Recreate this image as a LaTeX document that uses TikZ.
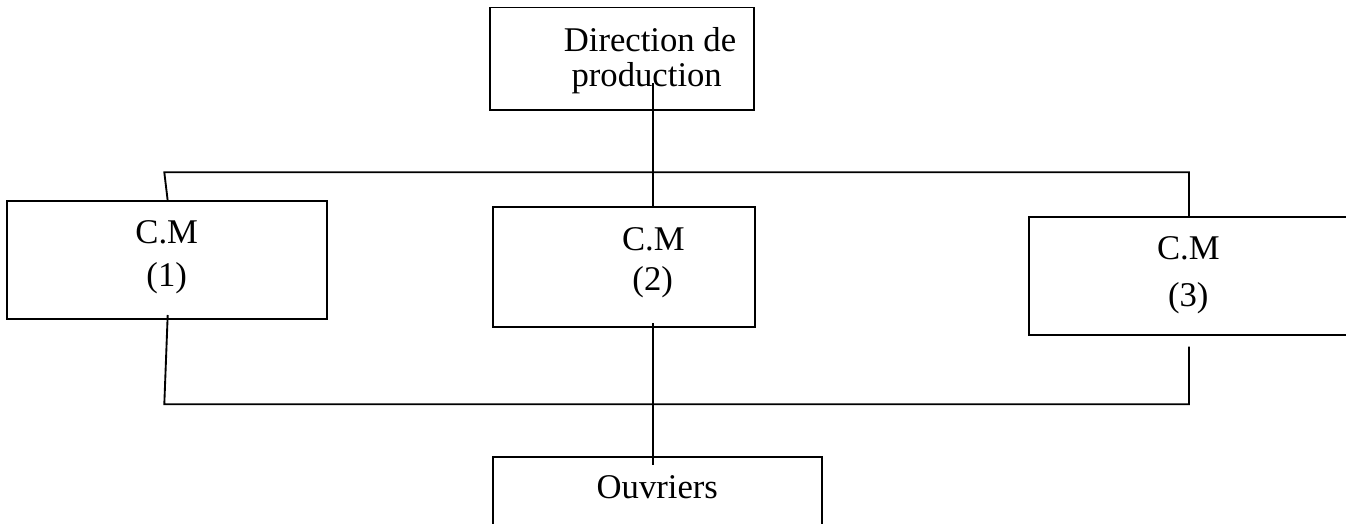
\documentclass[tikz,border=0pt]{standalone}
\usepackage{fontspec}
\setmainfont{Liberation Serif}
\begin{document}
\begin{tikzpicture}[x=0.75pt,y=-0.75pt,
  box/.style={draw=black,line width=1.4pt,rectangle,inner sep=0pt,outer sep=0pt},
  lbl/.style={anchor=base,inner sep=0pt,font=\fontsize{26}{30}\selectfont},
  wire/.style={draw=black,line width=1.4pt}]
\useasboundingbox (0,0) rectangle (1346,524);
% boxes
\node[box,minimum width=198pt,minimum height=76.9pt] (dir) at (622,58.75) {};
\node[box,minimum width=240pt,minimum height=88.7pt] (cm1) at (167,259.85) {};
\node[box,minimum width=196.7pt,minimum height=89.5pt] (cm2) at (623.85,267) {};
\node[box,minimum width=240pt,minimum height=88.3pt] (cm3) at (1189,276.15) {};
\node[box,minimum width=247.2pt,minimum height=62pt] (ouv) at (657.5,498.65) {};
% texts
\node[lbl] (dirA) at (650,52) {Direction de};
\node[lbl] (dirB) at (646.7,87) {production};
\node[lbl] (cm1A) at (166.7,243.3) {C.M};
\node[lbl] (cm1B) at (166.7,286) {(1)};
\node[lbl] (cm2A) at (653.3,250.5) {C.M};
\node[lbl] (cm2B) at (652.7,290.7) {(2)};
\node[lbl] (cm3A) at (1188.3,259) {C.M};
\node[lbl] (cm3B) at (1188.3,306) {(3)};
\node[lbl] (ouvA) at (657.3,498.3) {Ouvriers};
% connector points
\coordinate (dirS) at (652.7,83);
\coordinate (busL) at (164.3,172.3);
\coordinate (busR) at (1189,172.3);
\coordinate (cm1T) at (167.7,200.7);
\coordinate (cm3T) at (1189,217.3);
\coordinate (cm1S) at (167.7,315);
\coordinate (botL) at (164.3,404.3);
\coordinate (botR) at (1189,404.3);
\coordinate (cm3S) at (1189,346.7);
\coordinate (cm2S) at (652.7,323.3);
\coordinate (ouvE) at (652.7,465);
% connectors
\draw[wire] (dirS) -- (dirS |- cm2.north);
\draw[wire] (cm1T) -- (busL) -- (busR) -- (cm3T);
\draw[wire] (cm1S) -- (botL) -- (botR) -- (cm3S);
\draw[wire] (cm2S) -- (ouvE);
\end{tikzpicture}
\end{document}
